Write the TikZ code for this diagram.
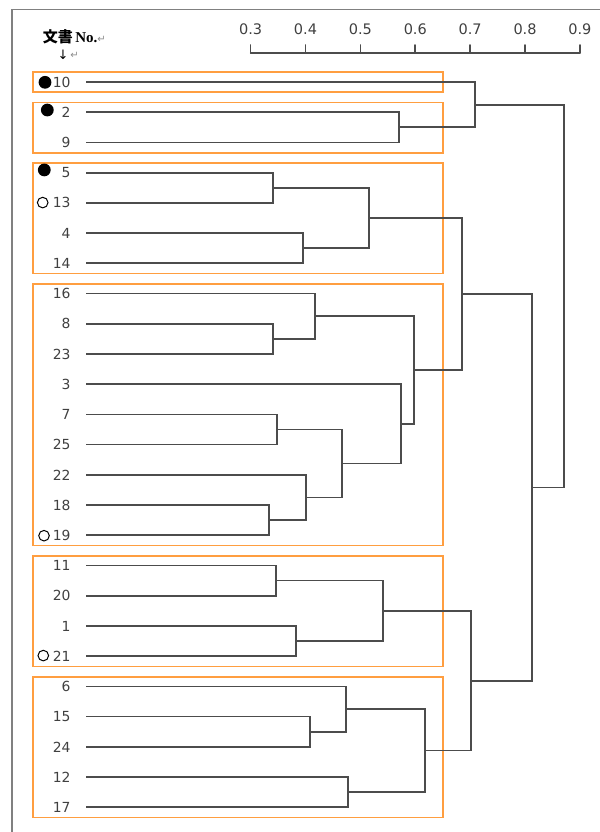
\documentclass[tikz,border=0pt]{standalone}
\usepackage{fontspec}
\setmainfont{Liberation Serif}
\newfontfamily\numfont{DejaVu Sans}
\newfontfamily\jpfont{Noto Sans CJK JP}
\usepackage{tkz-euclide}
\definecolor{LineClr}{rgb}{0.3,0.3,0.3}
\definecolor{BoxClr}{rgb}{1,0.62,0.25}
\definecolor{TextClr}{rgb}{0.25,0.25,0.25}
\definecolor{FrameClr}{rgb}{0.5,0.5,0.5}
\definecolor{MarkClr}{rgb}{0.55,0.55,0.55}
\tikzset{
  treeline/.style={line width=1.7pt,color=LineClr},
  grpbox/.style={line width=1.7pt,color=BoxClr},
  axisline/.style={line width=1.7pt,color=LineClr},
  framelin/.style={line width=1.2pt,color=FrameClr},
  leaflbl/.style={left=15.3pt,inner sep=0pt,text=TextClr,font=\numfont\fontsize{13.9}{16}\selectfont},
  ticklbl/.style={above=10.5pt,inner sep=0pt,text=TextClr,font=\numfont\fontsize{14.5}{17}\selectfont},
  fulldot/.style={circle,fill=black,inner sep=0pt,minimum size=12.8pt},
  opendot/.style={circle,draw=black,line width=1pt,inner sep=0pt,minimum size=10.6pt}
}

\begin{document}
\begin{tikzpicture}[x=54.88pt,y=-30.22pt]
\useasboundingbox (-1.5671,-2.7134) rectangle (9.3477,24.818);
\draw[framelin] (-1.348,25) |- (9.5,-2.399);

\tkzDefPoints{0/0/D10,0/1/D2,0/2/D9,0/3/D5,0/4/D13,0/5/D4,0/6/D14,
  0/7/D16,0/8/D8,0/9/D23,0/10/D3,0/11/D7,0/12/D25,0/13/D22,0/14/D18,0/15/D19,
  0/16/D11,0/17/D20,0/18/D1,0/19/D21,0/20/D6,0/21/D15,0/22/D24,0/23/D12,0/24/D17}

\tkzDefPoints{5.709/1.5/M1,7.088/0.75/M2,3.402/3.5/M3,3.949/5.5/M4,5.157/4.5/M5,
  3.402/8.5/M6,4.178/7.75/M7,3.475/11.5/M8,3.329/14.5/M9,4.009/13.75/M10,
  4.665/12.625/M11,5.740/11.3125/M12,5.982/9.53125/M13,6.851/7.015625/M14,
  3.462/16.5/M15,3.827/18.5/M16,5.406/17.5/M17,4.082/21.5/M18,4.732/20.75/M19,
  4.780/23.5/M20,6.177/22.125/M21,7.015/19.8125/M22,8.121/13.4140625/M23,
  8.704/7.08203/M24}

\tkzDefPoints{-0.96/-0.32/G1,6.511/0.34/H1,-0.96/0.68/G2,6.511/2.34/H2,
  -0.96/2.68/G3,6.511/6.34/H3,-0.96/6.68/G4,6.511/15.34/H4,
  -0.96/15.68/G5,6.511/19.34/H5,-0.96/19.68/G6,6.511/24.34/H6}

\tkzDefPoints{3/-0.97/A3,4/-0.97/A4,5/-0.97/A5,6/-0.97/A6,7/-0.97/A7,8/-0.97/A8,9/-0.97/A9,
  3/-1.224/T3,4/-1.224/T4,5/-1.224/T5,6/-1.224/T6,7/-1.224/T7,8/-1.224/T8,9/-1.224/T9}

\draw[grpbox] (G1) rectangle (H1);
\draw[grpbox] (G2) rectangle (H2);
\draw[grpbox] (G3) rectangle (H3);
\draw[grpbox] (G4) rectangle (H4);
\draw[grpbox] (G5) rectangle (H5);
\draw[grpbox] (G6) rectangle (H6);

\draw[treeline] (D2) -| (M1) |- (D9);
\draw[treeline] (D10) -| (M2) |- (M1);
\draw[treeline] (D5) -| (M3) |- (D13);
\draw[treeline] (D4) -| (M4) |- (D14);
\draw[treeline] (M3) -| (M5) |- (M4);
\draw[treeline] (D8) -| (M6) |- (D23);
\draw[treeline] (D16) -| (M7) |- (M6);
\draw[treeline] (D7) -| (M8) |- (D25);
\draw[treeline] (D18) -| (M9) |- (D19);
\draw[treeline] (D22) -| (M10) |- (M9);
\draw[treeline] (M8) -| (M11) |- (M10);
\draw[treeline] (D3) -| (M12) |- (M11);
\draw[treeline] (M7) -| (M13) |- (M12);
\draw[treeline] (M5) -| (M14) |- (M13);
\draw[treeline] (D11) -| (M15) |- (D20);
\draw[treeline] (D1) -| (M16) |- (D21);
\draw[treeline] (M15) -| (M17) |- (M16);
\draw[treeline] (D15) -| (M18) |- (D24);
\draw[treeline] (D6) -| (M19) |- (M18);
\draw[treeline] (D12) -| (M20) |- (D17);
\draw[treeline] (M19) -| (M21) |- (M20);
\draw[treeline] (M17) -| (M22) |- (M21);
\draw[treeline] (M14) -| (M23) |- (M22);
\draw[treeline] (M2) -| (M24) |- (M23);

\tkzDrawSegments[axisline](A3,A9 A3,T3 A4,T4 A5,T5 A6,T6 A7,T7 A8,T8 A9,T9)
\tkzLabelPoint[ticklbl](T3){0.3}
\tkzLabelPoint[ticklbl](T4){0.4}
\tkzLabelPoint[ticklbl](T5){0.5}
\tkzLabelPoint[ticklbl](T6){0.6}
\tkzLabelPoint[ticklbl](T7){0.7}
\tkzLabelPoint[ticklbl](T8){0.8}
\tkzLabelPoint[ticklbl](T9){0.9}

\tkzLabelPoint[leaflbl](D10){10}
\tkzLabelPoint[leaflbl](D2){2}
\tkzLabelPoint[leaflbl](D9){9}
\tkzLabelPoint[leaflbl](D5){5}
\tkzLabelPoint[leaflbl](D13){13}
\tkzLabelPoint[leaflbl](D4){4}
\tkzLabelPoint[leaflbl](D14){14}
\tkzLabelPoint[leaflbl](D16){16}
\tkzLabelPoint[leaflbl](D8){8}
\tkzLabelPoint[leaflbl](D23){23}
\tkzLabelPoint[leaflbl](D3){3}
\tkzLabelPoint[leaflbl](D7){7}
\tkzLabelPoint[leaflbl](D25){25}
\tkzLabelPoint[leaflbl](D22){22}
\tkzLabelPoint[leaflbl](D18){18}
\tkzLabelPoint[leaflbl](D19){19}
\tkzLabelPoint[leaflbl](D11){11}
\tkzLabelPoint[leaflbl](D20){20}
\tkzLabelPoint[leaflbl](D1){1}
\tkzLabelPoint[leaflbl](D21){21}
\tkzLabelPoint[leaflbl](D6){6}
\tkzLabelPoint[leaflbl](D15){15}
\tkzLabelPoint[leaflbl](D24){24}
\tkzLabelPoint[leaflbl](D12){12}
\tkzLabelPoint[leaflbl](D17){17}

\node[fulldot] (O10) at (-0.747,0.01) {};
\node[fulldot] (O2) at (-0.705,0.927) {};
\node[fulldot] (O5) at (-0.76,2.91) {};
\node[opendot] (E13) at (-0.789,3.99) {};
\node[opendot] (E19) at (-0.765,15.013) {};
\node[opendot] (E21) at (-0.778,18.98) {};

\node[anchor=west,inner sep=0pt] (head) at (-0.789,-1.499)
  {\fontsize{15}{18}\selectfont{\jpfont\bfseries 文書}\,\textbf{No.}{\numfont\fontsize{10}{12}\selectfont\color{MarkClr}↵}};
\node[inner sep=0pt] (down) at (-0.42,-0.893) {\numfont\fontsize{13}{15}\selectfont ↓};
\node[anchor=west,inner sep=0pt] (ret) at (-0.29,-0.893) {\numfont\fontsize{10}{12}\selectfont\color{MarkClr}↵};

\end{tikzpicture}
\end{document}
